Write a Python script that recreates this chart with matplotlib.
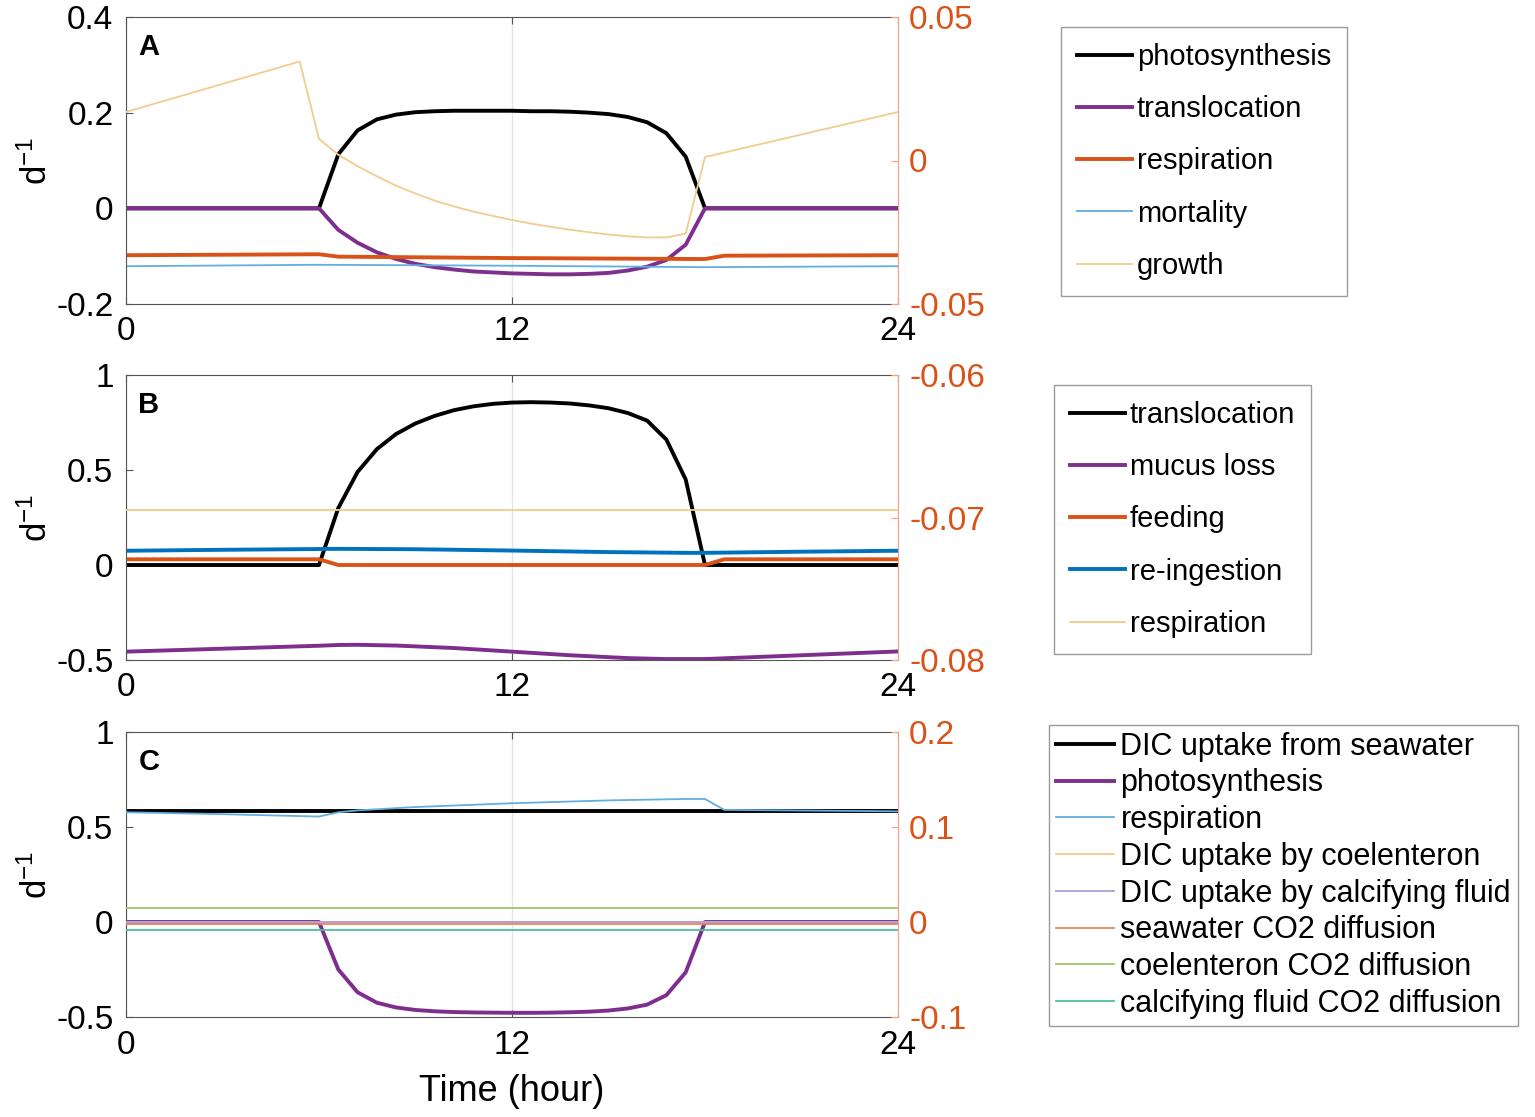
import numpy as np
import matplotlib
matplotlib.use('Agg')
import matplotlib.pyplot as plt
from matplotlib.ticker import FuncFormatter

plt.rcParams['font.family'] = ['Liberation Sans', 'DejaVu Sans']
plt.rcParams['mathtext.default'] = 'regular'
plt.rcParams['axes.unicode_minus'] = False

# time grid (hours) used by the daytime curves
t_day = [6.0, 6.6, 7.2, 7.8, 8.4, 9.0, 9.6, 10.2, 10.8, 11.4, 12.0, 12.6,
         13.2, 13.8, 14.4, 15.0, 15.6, 16.2, 16.8, 17.4, 18.0]
t_full = [0.0] + t_day + [24.0]
t_const = [0.0, 24.0]

# --- panel A ---
a_photo = [0, 0, 0.113, 0.163, 0.186, 0.196, 0.201, 0.203, 0.204, 0.204, 0.204, 0.204,
           0.203, 0.203, 0.202, 0.200, 0.197, 0.191, 0.180, 0.157, 0.108, 0, 0]
a_transloc = [0, 0, -0.045, -0.072, -0.092, -0.106, -0.116, -0.123, -0.128, -0.132, -0.134,
              -0.136, -0.137, -0.138, -0.138, -0.137, -0.135, -0.130, -0.122, -0.108, -0.076, 0, 0]
a_resp_t = [0, 6.0, 6.6, 12.0, 18.0, 18.6, 24]
a_resp = [-0.098, -0.096, -0.101, -0.104, -0.106, -0.099, -0.098]
a_mort_t = [0, 6, 12, 18, 24]
a_mort = [-0.121, -0.118, -0.120, -0.123, -0.121]
a_growth_t = [0.0, 5.4] + t_day + [24.0]
a_growth = [0.0169, 0.0345, 0.0075, 0.002, -0.002, -0.0055, -0.0088, -0.0115, -0.014, -0.016,
            -0.0178, -0.0193, -0.0207, -0.022, -0.0231, -0.0241, -0.025, -0.0258, -0.0264,
            -0.0268, -0.0268, -0.0255, 0.0012, 0.0169]

# --- panel B ---
b_transloc = [0, 0, 0.30, 0.49, 0.61, 0.69, 0.745, 0.785, 0.815, 0.835, 0.848, 0.855,
              0.857, 0.855, 0.85, 0.84, 0.825, 0.80, 0.76, 0.66, 0.45, 0, 0]
b_mucus_t = [0, 6.0, 6.6, 7.2, 8.4, 10.2, 12.0, 13.8, 15.6, 16.8, 18.0, 24]
b_mucus = [-0.456, -0.425, -0.421, -0.42, -0.424, -0.437, -0.456, -0.475, -0.49, -0.495, -0.495, -0.455]
b_feed_t = [0, 6.0, 6.6, 18.0, 18.6, 24]
b_feed = [0.03, 0.03, 0.0, 0.0, 0.03, 0.03]
b_reing_t = [0, 3, 6.6, 9, 12, 15, 17.4, 18, 21, 24]
b_reing = [0.075, 0.08, 0.085, 0.083, 0.076, 0.068, 0.064, 0.064, 0.07, 0.075]
b_resp = [-0.0695, -0.0695]

# --- panel C ---
c_dic_sw = [0.583, 0.583]
c_photo = [0, 0, -0.25, -0.37, -0.425, -0.45, -0.463, -0.47, -0.474, -0.476, -0.477, -0.478,
           -0.478, -0.477, -0.475, -0.472, -0.466, -0.455, -0.435, -0.385, -0.265, 0, 0]
c_resp_t = [0, 3, 6.0, 6.6, 7.2, 9.0, 12.0, 15.0, 17.4, 18.0, 18.6, 24]
c_resp = [0.1155, 0.1135, 0.111, 0.1155, 0.1175, 0.121, 0.125, 0.128, 0.1295, 0.1295, 0.118, 0.1165]
c_dic_coel = [0.0, 0.0]
c_dic_calc = [0.0, 0.0]
c_sw_co2 = [-0.0025, -0.0025]
c_coel_co2 = [0.0145, 0.0145]
c_calc_co2 = [-0.0085, -0.0085]

BLACK, PURPLE, ORANGE, BLUE = '#000000', '#7E2F8E', '#D95319', '#0072BD'
LBLUE, TAN, LPURPLE = '#62AEE0', '#F2CC8F', '#A99FDB'
LORANGE, GREEN, TEAL = '#E8875F', '#9CC46A', '#4CC09A'
THICK, THIN = 2.8, 1.3

fig = plt.figure(figsize=(15.35, 11.17), dpi=100)
W, H = 1535, 1117


def make_axes(top, bottom, ylim, yticks, ylim2, yticks2, letter):
    ax = fig.add_axes([126 / W, 1 - bottom / H, 772 / W, (bottom - top) / H])
    ax2 = ax.twinx()
    ax.set_xlim(0, 24)
    ax.set_xticks([0, 12, 24])
    ax.set_ylim(*ylim)
    ax.set_yticks(yticks)
    ax2.set_ylim(*ylim2)
    ax2.set_yticks(yticks2)
    fmt = FuncFormatter(lambda v, p: '%g' % round(v, 4))
    ax.yaxis.set_major_formatter(fmt)
    ax2.yaxis.set_major_formatter(fmt)
    ax.xaxis.grid(True, color='#E4E4E4', lw=1)
    ax.set_axisbelow(True)
    ax.tick_params(direction='in', length=5, top=True, labelsize=24, color='#555555')
    ax.tick_params(axis='x', pad=9)
    ax.tick_params(axis='y', pad=9)
    ax2.tick_params(axis='y', direction='in', length=5, labelsize=24,
                    colors=ORANGE, pad=8)
    ax2.tick_params(axis='y', color='#F2A383')
    for s in ['left', 'top', 'bottom']:
        ax.spines[s].set_color('#555555')
        ax2.spines[s].set_visible(False)
    ax.spines['right'].set_visible(False)
    ax2.spines['right'].set_color('#F2A383')
    ax.set_ylabel('d$^{-1}$', fontsize=25, labelpad=2)
    ax.yaxis.set_label_coords(-0.093, 0.5)
    ax.text(0.016, 0.895, letter, transform=ax.transAxes, fontsize=21,
            fontweight='bold', ha='left', va='center')
    return ax, ax2


def add_legend(handles, x, y, size, spacing, pad, textpad=0.15):
    fig.legend(handles=handles, loc='upper left', bbox_to_anchor=(x / W, 1 - y / H),
               bbox_transform=fig.transFigure, fontsize=size, frameon=True,
               fancybox=False, edgecolor='#9A9A9A', framealpha=1,
               handlelength=1.9, handletextpad=textpad, labelspacing=spacing,
               borderpad=pad, borderaxespad=0)


# Panel A
ax, ax2 = make_axes(17, 304, (-0.2, 0.4), [-0.2, 0, 0.2, 0.4],
                    (-0.05, 0.05), [-0.05, 0, 0.05], 'A')
h = []
h += ax.plot(t_full, a_photo, color=BLACK, lw=THICK, label='photosynthesis')
h += ax.plot(t_full, a_transloc, color=PURPLE, lw=THICK, label='translocation')
h += ax.plot(a_resp_t, a_resp, color=ORANGE, lw=THICK, label='respiration')
h += ax.plot(a_mort_t, a_mort, color=LBLUE, lw=THIN, label='mortality')
h += ax2.plot(a_growth_t, a_growth, color=TAN, lw=THIN, label='growth')
add_legend(h, 1061, 27, 21, 0.83, 0.55)

# Panel B
ax, ax2 = make_axes(375, 660, (-0.5, 1), [-0.5, 0, 0.5, 1],
                    (-0.08, -0.06), [-0.08, -0.07, -0.06], 'B')
h = []
h += ax.plot(t_full, b_transloc, color=BLACK, lw=THICK, label='translocation')
h += ax.plot(b_mucus_t, b_mucus, color=PURPLE, lw=THICK, label='mucus loss')
h += ax.plot(b_feed_t, b_feed, color=ORANGE, lw=THICK, label='feeding')
h += ax.plot(b_reing_t, b_reing, color=BLUE, lw=THICK, label='re-ingestion')
h += ax2.plot(t_const, b_resp, color=TAN, lw=THIN, label='respiration')
add_legend(h, 1054, 385, 21, 0.83, 0.55)

# Panel C
ax, ax2 = make_axes(732, 1017, (-0.5, 1), [-0.5, 0, 0.5, 1],
                    (-0.1, 0.2), [-0.1, 0, 0.1, 0.2], 'C')
h = []
h += ax.plot(t_const, c_dic_sw, color=BLACK, lw=THICK, label='DIC uptake from seawater')
h += ax.plot(t_full, c_photo, color=PURPLE, lw=THICK, label='photosynthesis')
h += ax2.plot(c_resp_t, c_resp, color=LBLUE, lw=THIN, label='respiration')
h += ax2.plot(t_const, c_dic_coel, color=TAN, lw=THIN, label='DIC uptake by coelenteron')
h += ax2.plot(t_const, c_dic_calc, color=LPURPLE, lw=THIN, label='DIC uptake by calcifying fluid')
h += ax2.plot(t_const, c_sw_co2, color=LORANGE, lw=THIN, label='seawater CO2 diffusion')
h += ax2.plot(t_const, c_coel_co2, color=GREEN, lw=THIN, label='coelenteron CO2 diffusion')
h += ax2.plot(t_const, c_calc_co2, color=TEAL, lw=THIN, label='calcifying fluid CO2 diffusion')
ax.set_xlabel('Time (hour)', fontsize=26, labelpad=10)
add_legend(h, 1049, 725, 22, 0.22, 0.22, textpad=0.22)

fig.savefig('out.png', dpi=100)
